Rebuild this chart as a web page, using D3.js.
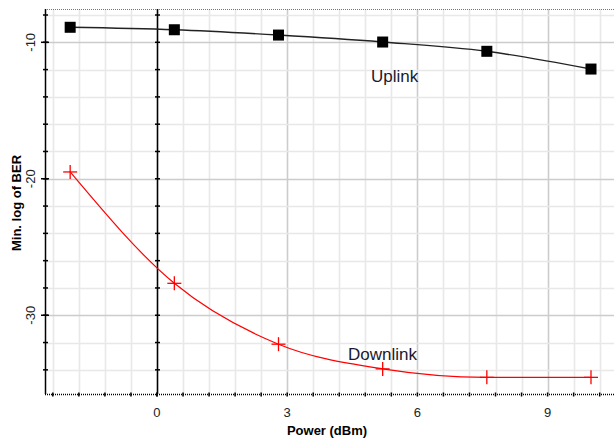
<!DOCTYPE html>
<html>
<head>
<meta charset="utf-8">
<script src="https://cdn.jsdelivr.net/npm/d3@7"></script>
<style>
  body { margin: 0; background: #fff; }
  svg { display: block; font-family: "Liberation Sans", Arial, sans-serif; }
</style>
</head>
<body>
<svg width="614" height="441"></svg>
<script>
// data
var power = [-2, 0.4, 2.8, 5.2, 7.6, 10];
var uplink = [-8.9, -9.08, -9.47, -9.98, -10.66, -11.96];
var downlink = [-19.5, -27.66, -32.12, -33.93, -34.55, -34.55];
var xTicks = [0, 3, 6, 9];
var yTicks = [-10, -20, -30];

var svg = d3.select("svg");
var pLeft = 45, pRight = 614, pTop = 9, pBottom = 394;

var x = d3.scaleLinear().domain([-2.58, 10.53]).range([pLeft, pRight]);
var y = d3.scaleLinear().domain([-7.56, -35.77]).range([pTop, pBottom]);

var xMinor = d3.range(-2.4, 10.5, 0.6).map(function(d){ return Math.round(d*10)/10; });
var yMinor = d3.range(-34, -7, 2);

// grid
var grid = svg.append("g");
grid.selectAll(".vx").data(xMinor).enter().append("line")
    .attr("x1", function(d){ return Math.round(x(d)) + 0.5; })
    .attr("x2", function(d){ return Math.round(x(d)) + 0.5; })
    .attr("y1", pTop).attr("y2", pBottom)
    .attr("stroke", function(d){ return (Math.abs(d % 3) < 0.01) ? "#cccccc" : "#e8e8e8"; })
    .attr("stroke-width", 1.6);
grid.selectAll(".hy").data(yMinor).enter().append("line")
    .attr("y1", function(d){ return Math.round(y(d)) + 0.5; })
    .attr("y2", function(d){ return Math.round(y(d)) + 0.5; })
    .attr("x1", pLeft).attr("x2", pRight)
    .attr("stroke", function(d){ return (d % 10 === 0) ? "#cccccc" : "#e8e8e8"; })
    .attr("stroke-width", 1.6);

// top dotted border
svg.append("line")
    .attr("x1", pLeft).attr("x2", pRight).attr("y1", pTop + 0.5).attr("y2", pTop + 0.5)
    .attr("stroke", "#777").attr("stroke-dasharray", "1,1");

// bottom dotted axis with tick dots
svg.append("line")
    .attr("x1", pLeft).attr("x2", pRight).attr("y1", pBottom + 0.5).attr("y2", pBottom + 0.5)
    .attr("stroke", "#000").attr("stroke-width", 1.3).attr("stroke-dasharray", "1,1");
svg.selectAll(".bt").data(xMinor.concat([0])).enter().append("line")
    .attr("x1", function(d){ return x(d); }).attr("x2", function(d){ return x(d); })
    .attr("y1", pBottom - 1.5).attr("y2", pBottom + 2.5)
    .attr("stroke", "#000").attr("stroke-width", 1.5);

// left axis and the zero axis
[ -2.58, 0 ].forEach(function(v){
  var xp = Math.round(x(v)) + 0.5;
  svg.append("line").attr("x1", xp).attr("x2", xp).attr("y1", pTop).attr("y2", pBottom)
      .attr("stroke", "#000").attr("stroke-width", 1.5);
  svg.selectAll(null).data(yMinor).enter().append("line")
      .attr("x1", xp - 2.5).attr("x2", xp + 2.5)
      .attr("y1", function(d){ return y(d); }).attr("y2", function(d){ return y(d); })
      .attr("stroke", "#000").attr("stroke-width", 1.5);
});
// longer ticks on the left at major values
svg.selectAll(".ym").data(yTicks).enter().append("line")
    .attr("x1", pLeft - 4).attr("x2", pLeft + 4)
    .attr("y1", function(d){ return y(d); }).attr("y2", function(d){ return y(d); })
    .attr("stroke", "#000").attr("stroke-width", 1.5);

// tick labels
svg.selectAll(".xl").data(xTicks).enter().append("text")
    .attr("x", function(d){ return x(d); }).attr("y", 417)
    .attr("text-anchor", "middle").attr("font-size", 13).attr("fill", "#222")
    .text(function(d){ return d; });
svg.selectAll(".yl").data(yTicks).enter().append("text")
    .attr("transform", function(d){ return "translate(35," + y(d) + ") rotate(-90)"; })
    .attr("text-anchor", "middle").attr("font-size", 13).attr("fill", "#222")
    .text(function(d){ return d; });

// axis titles
svg.append("text").attr("x", 327).attr("y", 435)
    .attr("text-anchor", "middle").attr("font-size", 13).attr("font-weight", "bold")
    .text("Power (dBm)");
svg.append("text").attr("transform", "translate(21,203) rotate(-90)")
    .attr("text-anchor", "middle").attr("font-size", 13).attr("font-weight", "bold")
    .text("Min. log of BER");

// lines
var line = d3.line().curve(d3.curveMonotoneX)
    .x(function(d){ return x(d[0]); }).y(function(d){ return y(d[1]); });

var upData = d3.zip(power, uplink);
var downData = d3.zip(power, downlink);

svg.append("path").attr("d", line(upData))
    .attr("fill", "none").attr("stroke", "#222").attr("stroke-width", 1.4);
svg.append("path").attr("d", line(downData))
    .attr("fill", "none").attr("stroke", "#ff0000").attr("stroke-width", 1.2);

svg.selectAll(".sq").data(upData).enter().append("rect")
    .attr("x", function(d){ return x(d[0]) - 5.5; })
    .attr("y", function(d){ return y(d[1]) - 5.5; })
    .attr("width", 11).attr("height", 11).attr("fill", "#000");

var plus = svg.selectAll(".pl").data(downData).enter().append("g")
    .attr("transform", function(d){ return "translate(" + x(d[0]) + "," + y(d[1]) + ")"; });
plus.append("line").attr("x1", -7).attr("x2", 7).attr("y1", 0).attr("y2", 0)
    .attr("stroke", "#ff0000").attr("stroke-width", 1.3);
plus.append("line").attr("x1", 0).attr("x2", 0).attr("y1", -7).attr("y2", 7)
    .attr("stroke", "#ff0000").attr("stroke-width", 1.3);

// series labels
svg.append("text").attr("x", 371).attr("y", 82).attr("font-size", 17).attr("fill", "#1a1a2e")
    .text("Uplink");
svg.append("text").attr("x", 348).attr("y", 360).attr("font-size", 17).attr("fill", "#1a1a2e")
    .text("Downlink");
</script>
</body>
</html>
